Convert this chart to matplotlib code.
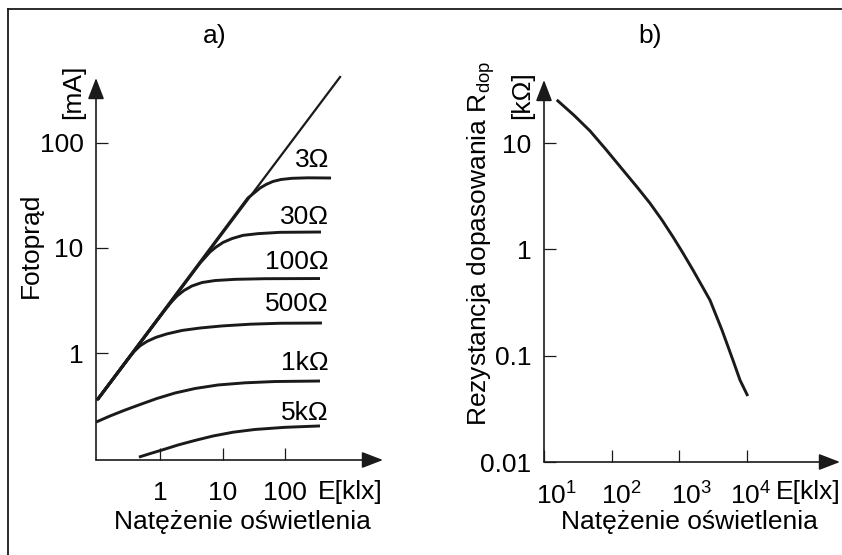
import matplotlib
matplotlib.use('Agg')
import matplotlib.pyplot as plt
import matplotlib.transforms as mtransforms
from matplotlib.patches import FancyArrowPatch
from matplotlib.lines import Line2D

plt.rcParams['font.family'] = ['Liberation Sans', 'DejaVu Sans']
plt.rcParams['mathtext.fontset'] = 'custom'
plt.rcParams['mathtext.rm'] = 'Liberation Sans'
plt.rcParams['mathtext.it'] = 'Liberation Sans:italic'

W, H = 842, 555
FS = 19

# ---- panel a: photocurrent vs illuminance for several loads ----
line_E = [0.1, 760]
line_I = [0.36, 425]

curve_labels = ['3Ω', '30Ω', '100Ω', '500Ω', '1kΩ', '5kΩ']
curve_E = [
    [0.1, 25.6, 32, 40, 50, 64, 86, 129, 233, 545],
    [0.1, 4.37, 5.25, 6.3, 7.87, 10.2, 14.2, 21.3, 37, 83, 377],
    [0.1, 1.2, 1.5, 1.87, 2.42, 3.25, 4.7, 7.6, 15.8, 47.9, 363],
    [0.1, 0.308, 0.384, 0.479, 0.62, 0.863, 1.29, 2.25, 4.37, 9.8, 27.5, 83, 390],
    [0.095, 0.158, 0.275, 0.479, 0.895, 1.74, 3.63, 8.47, 22.9, 69, 363],
    [0.46, 0.69, 1.12, 1.94, 3.63, 7.05, 14.7, 33.1, 100, 363],
]
curve_I = [
    [0.36, 30, 33.4, 37.3, 40.3, 43, 44.9, 46.1, 46.6, 46.4],
    [0.36, 7.2, 8.1, 9.16, 10.2, 11.3, 12.3, 13.2, 13.7, 14.1, 14.2],
    [0.36, 2.57, 3.03, 3.49, 3.94, 4.35, 4.69, 4.9, 5.03, 5.1, 5.12],
    [0.36, 0.875, 1.03, 1.17, 1.29, 1.41, 1.52, 1.64, 1.73, 1.81, 1.88, 1.92, 1.93],
    [0.22, 0.251, 0.286, 0.323, 0.369, 0.416, 0.459, 0.496, 0.52, 0.535, 0.541],
    [0.102, 0.11, 0.12, 0.133, 0.147, 0.162, 0.176, 0.187, 0.196, 0.202],
]
# label centre positions in pixels (right edge x, centre y)
label_px_y = [158, 215, 260, 302, 361, 411]

a_xticks = [1, 10, 100]
a_xticklabels = ['1', '10', '100']
a_yticks = [1, 10, 100]
a_yticklabels = ['1', '10', '100']

# ---- panel b: matching resistance vs illuminance ----
b_E = [16, 27.7, 48, 82.4, 147, 237, 368, 553, 805, 1130, 1590, 2080,
       2830, 4260, 6170, 7850, 10000]
b_R = [25, 18.3, 13, 8.7, 5.57, 3.86, 2.72, 1.89, 1.31, 0.923, 0.638, 0.472,
       0.333, 0.174, 0.091, 0.059, 0.043]
b_xticks = [10, 100, 1000, 10000]
b_xticklabels = ['$10^{1}$', '$10^{2}$', '$10^{3}$', '$10^{4}$']
b_xlabel_shift = [12, 10, 12, 4]
b_yticks = [0.01, 0.1, 1, 10]
b_yticklabels = ['0.01', '0.1', '1', '10']


def fx(x):
    return x / W


def fy(y):
    return 1 - y / H


def axes_box(x0, x1, y0, y1):
    return [fx(x0), fy(y1), (x1 - x0) / W, (y1 - y0) / H]


def arrow_axes(ax):
    for p0, p1 in [((0, 0), (1, 0)), ((0, 0), (0, 1))]:
        arr = FancyArrowPatch(p0, p1, transform=ax.transAxes,
                              arrowstyle='-|>,head_length=13,head_width=5',
                              mutation_scale=1, shrinkA=0, shrinkB=0,
                              color='#1a1a1a', lw=1.2, clip_on=False)
        ax.add_patch(arr)


def style_axes(ax):
    ax.set_xscale('log')
    ax.set_yscale('log')
    for s in ax.spines.values():
        s.set_visible(False)
    ax.minorticks_off()
    ax.tick_params(which='major', direction='in', length=8.6, width=0.9,
                   color='#1a1a1a', labelsize=FS)
    ax.tick_params(axis='y', pad=9)
    ax.tick_params(axis='x', pad=15)
    ax.patch.set_alpha(0)


fig = plt.figure(figsize=(W / 100, H / 100), dpi=100)

# outer frame (top and left edges)
fig.add_artist(Line2D([fx(8), 1], [fy(9), fy(9)], transform=fig.transFigure,
                      color='#1a1a1a', lw=1.3))
fig.add_artist(Line2D([fx(8), fx(8)], [fy(9), 0], transform=fig.transFigure,
                      color='#1a1a1a', lw=1.3))

# panel a
ax1 = fig.add_axes(axes_box(96, 383, 78, 460))
style_axes(ax1)
ax1.set_xlim(10 ** -1.024, 10 ** 3.568)
ax1.set_ylim(10 ** -1.019, 10 ** 2.619)
ax1.plot(line_E, line_I, color='#1a1a1a', lw=1.6, clip_on=False)
for E, I in zip(curve_E, curve_I):
    ax1.plot(E, I, color='#1a1a1a', lw=2.1, clip_on=False,
             solid_capstyle='butt', solid_joinstyle='round')
ax1.set_xticks(a_xticks)
ax1.set_xticklabels(a_xticklabels)
ax1.set_yticks(a_yticks)
ax1.set_yticklabels(a_yticklabels)
arrow_axes(ax1)

for lab, yc in zip(curve_labels, label_px_y):
    fig.text(fx(329), fy(yc + 9), lab, ha='right', va='baseline', fontsize=FS)

# panel b
ax2 = fig.add_axes(axes_box(544, 840, 80, 462))
style_axes(ax2)
ax2.set_xlim(10, 10 ** 5.372)
ax2.set_ylim(0.01, 10 ** 1.594)
ax2.plot(b_E, b_R, color='#1a1a1a', lw=2.1, clip_on=False,
         solid_joinstyle='round')
ax2.set_xticks(b_xticks)
ax2.set_xticklabels(b_xticklabels)
ax2.set_yticks(b_yticks)
ax2.set_yticklabels(b_yticklabels)
for lab, dx in zip(ax2.get_xticklabels(), b_xlabel_shift):
    off = mtransforms.ScaledTranslation(dx / 100, 0, fig.dpi_scale_trans)
    lab.set_transform(lab.get_transform() + off)
arrow_axes(ax2)

# titles and axis texts
fig.text(fx(215), fy(43), 'a)', ha='center', va='baseline', fontsize=FS)
fig.text(fx(650), fy(43), 'b)', ha='center', va='baseline', fontsize=FS)

fig.text(fx(350), fy(499), 'E[klx]', ha='center', va='baseline', fontsize=FS)
fig.text(fx(808), fy(499), 'E[klx]', ha='center', va='baseline', fontsize=FS)
fig.text(fx(242), fy(529), 'Natężenie oświetlenia', ha='center', va='baseline',
         fontsize=FS)
fig.text(fx(689), fy(529), 'Natężenie oświetlenia', ha='center', va='baseline',
         fontsize=FS)

fig.text(fx(38), fy(245), 'Fotoprąd', rotation=90, rotation_mode='anchor',
         ha='center', va='baseline', fontsize=FS)
fig.text(fx(80), fy(92), '[mA]', rotation=90, rotation_mode='anchor',
         ha='center', va='baseline', fontsize=FS)
fig.text(fx(487), fy(243), r'Rezystancja dopasowania R$_{\mathrm{dop}}$',
         rotation=90, rotation_mode='anchor', ha='center', va='baseline',
         fontsize=FS)
fig.text(fx(529), fy(95), '[kΩ]', rotation=90, rotation_mode='anchor',
         ha='center', va='baseline', fontsize=FS)

fig.savefig('out.png', dpi=100)
